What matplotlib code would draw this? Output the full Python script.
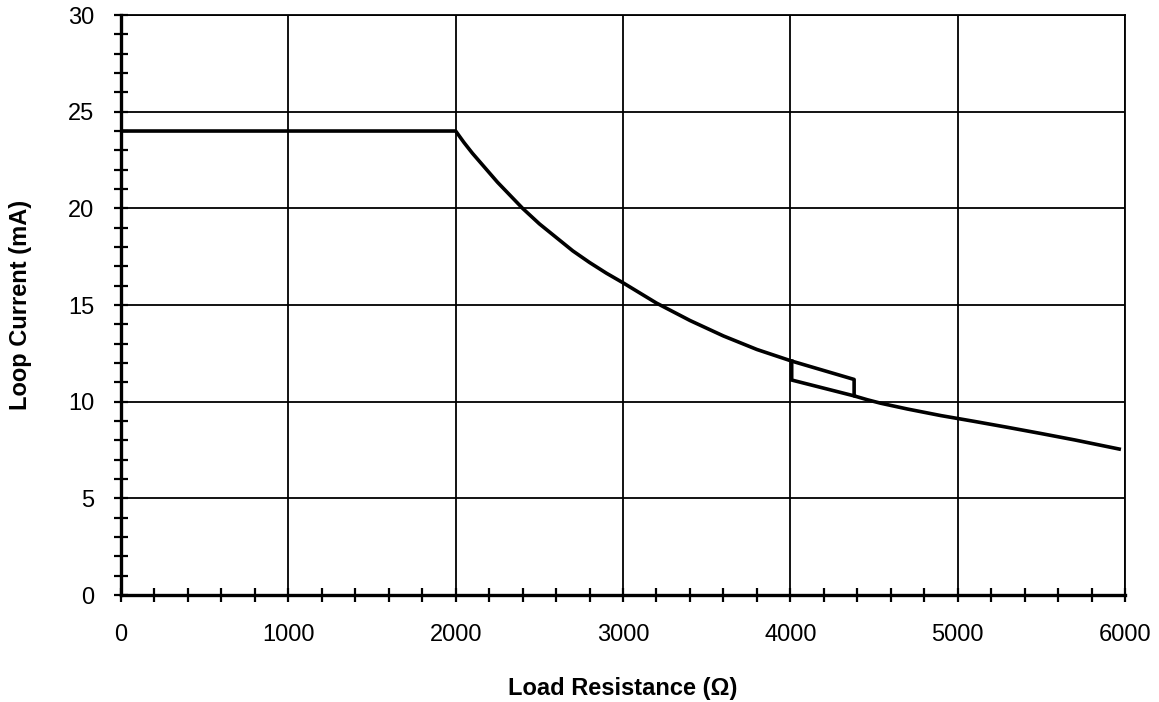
import matplotlib.pyplot as plt
from matplotlib.ticker import MultipleLocator

plt.rcParams['font.family'] = ['Liberation Sans', 'DejaVu Sans']

# load line
resistance = [0, 2000, 2050, 2100, 2150, 2200, 2250, 2300, 2350, 2400,
              2500, 2600, 2700, 2800, 2900, 3000, 3200, 3400, 3600, 3800,
              4008, 4381, 4381, 4460, 4540, 4700, 4900, 5100, 5300, 5500,
              5700, 5965]
current = [24.0, 24.0, 23.4, 22.85, 22.35, 21.85, 21.35, 20.9, 20.45, 20.0,
           19.2, 18.5, 17.8, 17.2, 16.65, 16.15, 15.1, 14.2, 13.4, 12.7,
           12.1, 11.15, 10.3, 10.1, 9.92, 9.62, 9.28, 8.98, 8.67, 8.35,
           8.02, 7.55]

# left/bottom edges of the small offset box
box_r = [4008, 4008, 4381]
box_i = [12.1, 11.12, 10.3]

fig = plt.figure(figsize=(11.59, 7.02), dpi=100)
ax = fig.add_axes([0.1044, 0.1524, 0.8663, 0.8262])

ax.plot(resistance, current, color='black', lw=2.6, solid_joinstyle='round', zorder=3)
ax.plot(box_r, box_i, color='black', lw=2.6, solid_joinstyle='miter', zorder=3)

ax.set_xlim(0, 6000)
ax.set_ylim(0, 30)
ax.xaxis.set_major_locator(MultipleLocator(1000))
ax.xaxis.set_minor_locator(MultipleLocator(200))
ax.yaxis.set_major_locator(MultipleLocator(5))
ax.yaxis.set_minor_locator(MultipleLocator(1))

ax.grid(which='major', color='black', lw=1.3)
ax.set_axisbelow(True)

for s in ['left', 'bottom']:
    ax.spines[s].set_linewidth(2.4)
for s in ['top', 'right']:
    ax.spines[s].set_linewidth(1.3)

ax.tick_params(which='both', direction='inout', length=10, width=1.6,
               labelsize=17, color='black')
ax.tick_params(axis='x', pad=16)
ax.tick_params(axis='y', pad=14)

ax.set_xlabel('Load Resistance (\u03a9)', fontsize=17, fontweight='bold', labelpad=22)
ax.set_ylabel('Loop Current (mA)', fontsize=17, fontweight='bold', labelpad=26)

fig.savefig('out.png', dpi=100)
